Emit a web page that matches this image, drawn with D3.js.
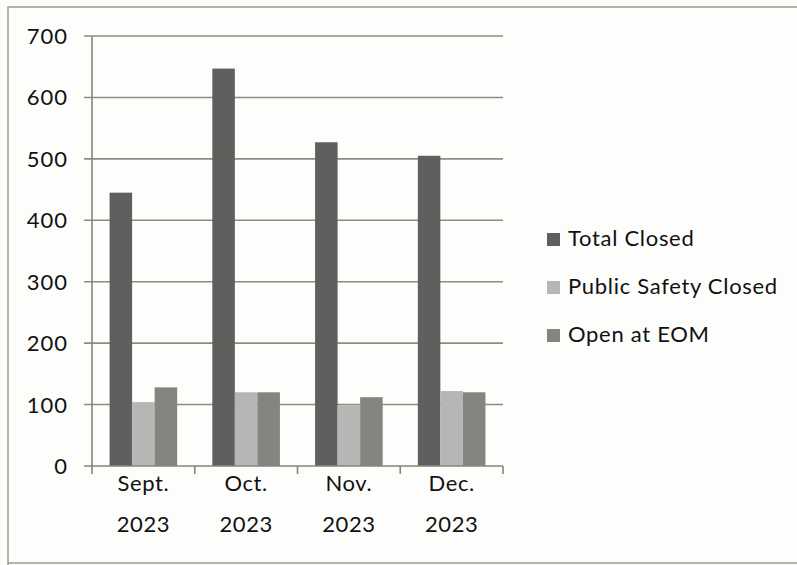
<!DOCTYPE html>
<html>
<head>
<meta charset="utf-8">
<script src="https://cdn.jsdelivr.net/npm/d3@7"></script>
<style>
  html, body { margin: 0; padding: 0; background: #fdfdfc; }
  svg { display: block; }
  text { font-family: Lato, "Open Sans", sans-serif; fill: #111; }
</style>
</head>
<body>
<svg id="chart" width="797" height="565"></svg>
<script>
// Monthly case counts
const months = ["Sept. 2023", "Oct. 2023", "Nov. 2023", "Dec. 2023"];
const seriesNames = ["Total Closed", "Public Safety Closed", "Open at EOM"];
const totalClosed = [445, 647, 527, 505];
const publicSafetyClosed = [104, 120, 99, 122];
const openAtEOM = [128, 120, 112, 120];
const yTicks = [0, 100, 200, 300, 400, 500, 600, 700];
const colors = ["#5f5f5e", "#b6b7b5", "#858480"];

const seriesValues = [totalClosed, publicSafetyClosed, openAtEOM];

const svg = d3.select("#chart");
const plot = { left: 92, right: 503, top: 36, bottom: 466 };

// Frame around the chart
svg.append("path")
  .attr("d", "M8,565 L8,7 L797,7")
  .attr("fill", "none").attr("stroke", "#9a9a96").attr("stroke-width", 1.5);
svg.append("line")
  .attr("x1", 8).attr("x2", 797).attr("y1", 563).attr("y2", 563)
  .attr("stroke", "#9a9a96").attr("stroke-width", 1.5);

const x = d3.scaleBand().domain(months).range([plot.left, plot.right]).paddingInner(0).paddingOuter(0);
const y = d3.scaleLinear().domain([0, 700]).range([plot.bottom, plot.top]);
const xs = d3.scaleBand().domain(seriesNames).range([0, x.bandwidth()]).paddingInner(0).paddingOuter(0.78);

// Horizontal gridlines with left tick marks
svg.append("g").selectAll("line").data(yTicks.filter(d => d > 0)).join("line")
  .attr("x1", plot.left - 8).attr("x2", plot.right)
  .attr("y1", d => y(d)).attr("y2", d => y(d))
  .attr("stroke", "#8c8b85").attr("stroke-width", 1.6);

// Bars
const groups = svg.append("g").selectAll("g").data(months).join("g")
  .attr("transform", d => `translate(${x(d)},0)`);
groups.selectAll("rect")
  .data((m, i) => seriesNames.map((s, j) => ({ s, j, v: seriesValues[j][i] })))
  .join("rect")
  .attr("x", d => xs(d.s))
  .attr("width", xs.bandwidth())
  .attr("y", d => y(d.v))
  .attr("height", d => y(0) - y(d.v))
  .attr("fill", d => colors[d.j]);

// Axes
const axisColor = "#85847f";
svg.append("line").attr("x1", plot.left).attr("x2", plot.left)
  .attr("y1", plot.top).attr("y2", plot.bottom + 8)
  .attr("stroke", axisColor).attr("stroke-width", 1.6);
svg.append("line").attr("x1", plot.left - 8).attr("x2", plot.right)
  .attr("y1", plot.bottom).attr("y2", plot.bottom)
  .attr("stroke", axisColor).attr("stroke-width", 1.6);
svg.append("g").selectAll("line").data(months).join("line")
  .attr("x1", d => x(d) + x.bandwidth()).attr("x2", d => x(d) + x.bandwidth())
  .attr("y1", plot.bottom).attr("y2", plot.bottom + 8)
  .attr("stroke", axisColor).attr("stroke-width", 1.6);

// Y tick labels
svg.append("g").selectAll("text").data(yTicks).join("text")
  .attr("x", 68).attr("y", d => y(d) + 8)
  .attr("text-anchor", "end")
  .attr("font-size", 22)
  .attr("letter-spacing", 1)
  .text(d => d);

// X category labels, two lines each
svg.append("g").selectAll("text").data(months).join("text")
  .attr("text-anchor", "middle")
  .attr("font-size", 22)
  .attr("letter-spacing", 0.6)
  .attr("transform", d => `translate(${x(d) + x.bandwidth() / 2},0)`)
  .each(function(d) {
    const parts = d.split(" ");
    d3.select(this).selectAll("tspan").data(parts).join("tspan")
      .attr("x", 0)
      .attr("y", (p, k) => 491 + k * 41)
      .text(p => p);
  });

// Legend
const legend = svg.append("g").selectAll("g").data(seriesNames).join("g")
  .attr("transform", (d, i) => `translate(547,${233 + i * 48})`);
legend.append("rect").attr("width", 13).attr("height", 13)
  .attr("fill", (d, i) => colors[i]);
legend.append("text").attr("x", 21).attr("y", 13)
  .attr("font-size", 22)
  .attr("letter-spacing", 0.7)
  .text(d => d);
</script>
</body>
</html>
